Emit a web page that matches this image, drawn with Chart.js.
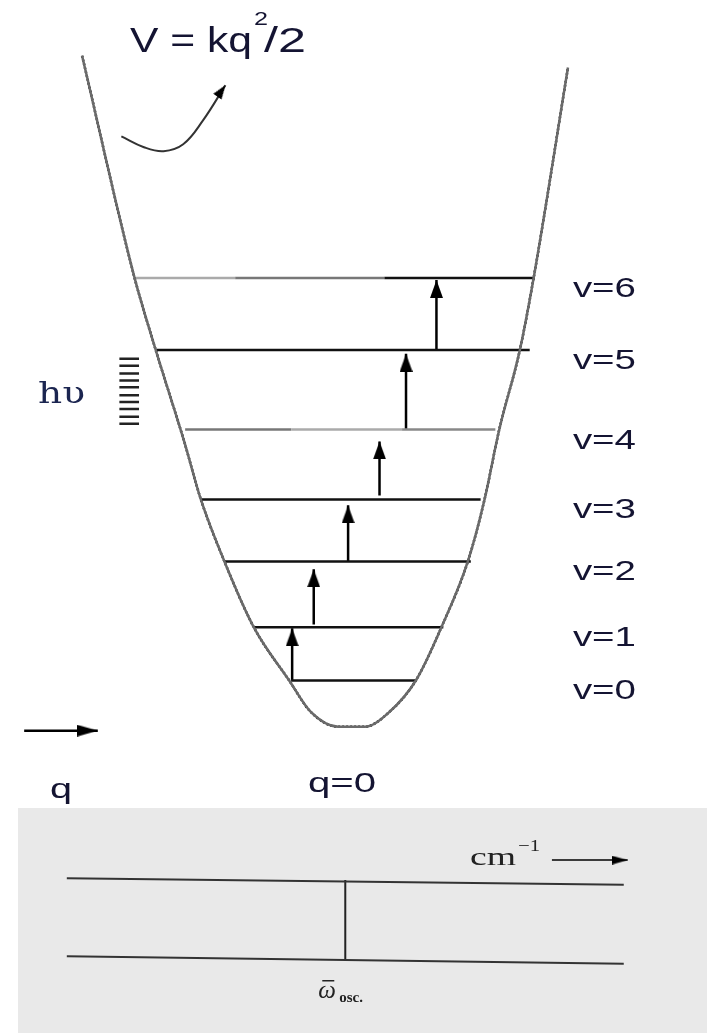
<!DOCTYPE html>
<html>
<head>
<meta charset="utf-8">
<script src="https://cdn.jsdelivr.net/npm/chart.js@4.4.1/dist/chart.umd.min.js"></script>
<style>
  html, body { margin: 0; padding: 0; background: #fff; }
  #pozo { display: block; }
  #panel { position: absolute; left: 18px; top: 808px; width: 689px; height: 225px; background: #e9e9e9; }
  #espectro { display: block; }
</style>
</head>
<body>
<canvas id="pozo" width="707" height="808"></canvas>
<div id="panel"><canvas id="espectro" width="689" height="225"></canvas></div>
<script>
// niveles vibracionales v=0..6 (E = 0 en el fondo del pozo)
const niveles = [47, 101, 168, 231, 302, 383, 456];
const nivelIzq = [-60, -98, -128, -152, -168, -198, -218];
const nivelDer = [67, 95, 123, 133, 148, 183, 188];
const etiquetas = ["v=0", "v=1", "v=2", "v=3", "v=4", "v=5", "v=6"];

// tramos con otro tono en v=4 y v=6
const tramoV4 = [-168, -60, 53, 148];
const tonoV4 = ["#777", "#aaa", "#888"];
const tramoV6 = [-218, -117, 35, 188];
const tonoV6 = ["#aaa", "#777", "#111"];

// curva de potencial V = kq^2/2 tal como esta trazada
const pozoQ = [-273, -220, -198, -169, -152, -128, -98, -62, -40, -12, 15, 40, 67, 93, 120, 137, 152, 173, 187, 222];
const pozoE = [682, 458, 383, 290, 231, 168, 101, 47, 15, 0, 0, 15, 47, 101, 168, 231, 302, 383, 456, 670];

// flechas de transicion v -> v+1
const flechaQ = [-59, -37, -2, 30, 57, 88];
const flechaDesde = [47, 104, 168, 235, 302, 383];
const flechaHasta = [100, 160, 225, 290, 379, 454];

// peine de h nu
const peineQ = [-235, -215];
const peineE = [374, 367, 359, 352, 345, 337, 330, 323, 315, 308];

// flecha curva bajo la formula
const curvaQ = [-233, -210, -190, -170, -150, -127];
const curvaE = [600, 589, 585, 592, 616, 652];

// flecha del eje q
const ejeQ = [-332, -257];
const ejeE = -4;

// espectro de abajo: dos lineas base y la raya en w_osc
const baseQ = [44, 610];
const baseArriba = [157, 150];
const baseAbajo = [75, 67];
const wOsc = 327;
const rayaE = [72, 155];
const flechaCmQ = [537, 614];
const flechaCmE = 176;

function punta(w, h) {
  // punta de flecha con el vertice en el centro del canvas
  const c = document.createElement("canvas");
  c.width = w;
  c.height = h * 2;
  const g = c.getContext("2d");
  g.fillStyle = "#000";
  g.beginPath();
  g.moveTo(w / 2, h);
  g.lineTo(w, 2 * h);
  g.lineTo(0, 2 * h);
  g.closePath();
  g.fill();
  return c;
}
const puntaGrande = punta(13, 18);
const puntaEje = punta(12, 21);
const puntaCurva = punta(10, 14);
const puntaCm = punta(9, 16);

function linea(datos, color, ancho, extra) {
  return Object.assign({
    data: datos,
    borderColor: color,
    borderWidth: ancho,
    pointRadius: 0,
    fill: false,
    tension: 0,
  }, extra || {});
}

function flecha(datos, cabeza, giro, ancho) {
  return linea(datos, "#000", ancho, {
    pointRadius: datos.map((p, i) => (i === datos.length - 1 ? 1 : 0)),
    pointStyle: cabeza,
    rotation: giro,
  });
}

function texto(ctx, str, x, y, font, color, ancho) {
  ctx.save();
  ctx.font = font;
  ctx.fillStyle = color;
  ctx.textBaseline = "alphabetic";
  const w = ctx.measureText(str).width;
  ctx.translate(x, y);
  ctx.scale(ancho ? ancho / w : 1, 1);
  ctx.fillText(str, 0, 0);
  ctx.restore();
}

const tinta = "#141432";
const sans = "'Liberation Sans', Arial, sans-serif";

/* ------------ pozo armonico ---------- */
const conjuntos = [];
const curva = pozoQ.map((q, i) => ({ x: q, y: pozoE[i] }));
conjuntos.push(linea(curva, "#6a6a6a", 2.5, { cubicInterpolationMode: "monotone" }));
conjuntos.push(linea(curva, "#000", 2.5, { cubicInterpolationMode: "monotone", borderDash: [2, 2] }));

niveles.forEach((e, v) => {
  if (v === 4 || v === 6) {
    const q = v === 4 ? tramoV4 : tramoV6;
    const tono = v === 4 ? tonoV4 : tonoV6;
    conjuntos.push(linea(q.map((x) => ({ x, y: e })), "#111", 2.5, {
      segment: { borderColor: (s) => tono[s.p0DataIndex] },
    }));
  } else {
    conjuntos.push(linea([{ x: nivelIzq[v], y: e }, { x: nivelDer[v], y: e }], "#111", 2.5));
  }
});

flechaQ.forEach((q, i) => {
  conjuntos.push(flecha([{ x: q, y: flechaDesde[i] }, { x: q, y: flechaHasta[i] }], puntaGrande, 0, 2.5));
});

peineE.forEach((e) => {
  conjuntos.push(linea(peineQ.map((x) => ({ x, y: e })), "#222", 2.5));
});

conjuntos.push(flecha(curvaQ.map((q, i) => ({ x: q, y: curvaE[i] })), puntaCurva, 35, 2));
conjuntos[conjuntos.length - 1].tension = 0.4;
conjuntos[conjuntos.length - 1].borderColor = "#333";

conjuntos.push(flecha(ejeQ.map((x) => ({ x, y: ejeE })), puntaEje, 90, 2.5));

const rotulosPozo = {
  id: "rotulosPozo",
  afterDatasetsDraw(chart) {
    const { ctx, scales: { x, y } } = chart;
    etiquetas.forEach((t, v) => {
      texto(ctx, t, x.getPixelForValue(227), y.getPixelForValue(niveles[v]) + 19, "28px " + sans, tinta, 63);
    });
    // V = kq^2/2
    texto(ctx, "V = kq", 130, 52, "35px " + sans, tinta, 122);
    texto(ctx, "2", 254, 25, "18px " + sans, tinta, 14);
    texto(ctx, "/2", 264, 52, "35px " + sans, tinta, 42);
    texto(ctx, "h\u03c5", 38, 403, "30px 'DejaVu Serif', serif", "#1b2550", 47);
    texto(ctx, "q=0", 308, 792, "28px " + sans, tinta, 68);
    texto(ctx, "q", 50, 798, "28px " + sans, tinta, 22);
  },
};

new Chart(document.querySelector("#pozo").getContext("2d"), {
  type: "line",
  data: { datasets: conjuntos },
  options: {
    responsive: false,
    animation: false,
    devicePixelRatio: 1,
    layout: { padding: 0 },
    scales: {
      x: { type: "linear", min: -350, max: 357, display: false },
      y: { type: "linear", min: -76, max: 732, display: false },
    },
    plugins: { legend: { display: false }, tooltip: { enabled: false } },
  },
  plugins: [rotulosPozo],
});

/* ------------ espectro ---------- */
const rotulosEspectro = {
  id: "rotulosEspectro",
  afterDatasetsDraw(chart) {
    const { ctx, scales: { x } } = chart;
    const serif = "'Liberation Serif', 'Times New Roman', serif";
    const xw = x.getPixelForValue(wOsc);
    texto(ctx, "cm", 452, 57, "26px " + serif, "#222", 46);
    texto(ctx, "\u22121", 500, 43, "17px " + serif, "#222", 22);
    texto(ctx, "\u03c9", xw - 27, 190, "italic 25px " + serif, "#222");
    // raya de promedio sobre la omega
    ctx.fillStyle = "#222";
    ctx.fillRect(xw - 23, 172, 12, 1.5);
    texto(ctx, "osc.", xw - 6, 194, "bold 15px " + serif, "#222");
  },
};

new Chart(document.querySelector("#espectro").getContext("2d"), {
  type: "line",
  data: {
    datasets: [
      linea(baseQ.map((q, i) => ({ x: q, y: baseArriba[i] })), "#333", 2),
      linea(baseQ.map((q, i) => ({ x: q, y: baseAbajo[i] })), "#333", 2),
      linea(rayaE.map((e) => ({ x: wOsc, y: e })), "#222", 2),
      flecha(flechaCmQ.map((q) => ({ x: q, y: flechaCmE })), puntaCm, 90, 1.5),
    ],
  },
  options: {
    responsive: false,
    animation: false,
    devicePixelRatio: 1,
    layout: { padding: 0 },
    scales: {
      x: { type: "linear", min: 0, max: 689, display: false },
      y: { type: "linear", min: 0, max: 225, display: false },
    },
    plugins: { legend: { display: false }, tooltip: { enabled: false } },
  },
  plugins: [rotulosEspectro],
});
</script>
</body>
</html>
